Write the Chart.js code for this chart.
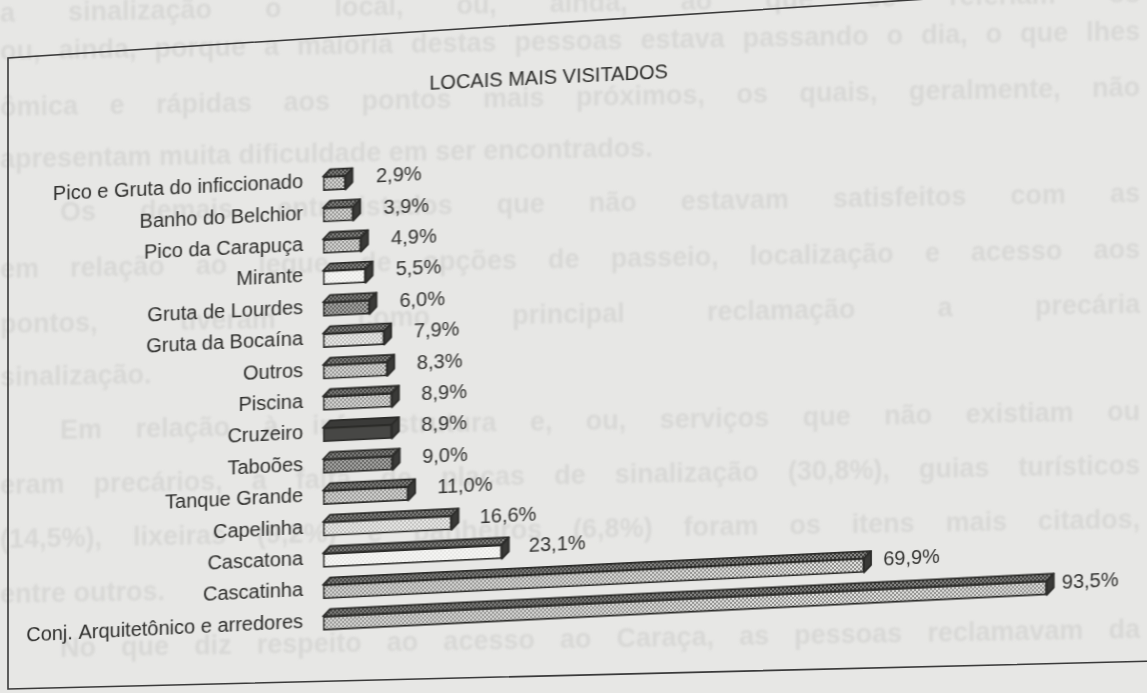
<!DOCTYPE html>
<html lang="pt">
<head>
<meta charset="utf-8">
<title>Locais mais visitados</title>
<script src="https://cdn.jsdelivr.net/npm/chart.js@4.4.0/dist/chart.umd.min.js"></script>
<style>
    html, body {
        margin: 0;
        padding: 0;
        width: 1147px;
        height: 693px;
        overflow: hidden;
        background: #e7e7e5;
        font-family: "Liberation Sans", Arial, sans-serif;
    }
    #ghost {
        position: absolute;
        left: 0;
        top: 0;
        width: 1147px;
        height: 693px;
        color: #d8d8d6;
        font-size: 27px;
        font-weight: bold;
        filter: blur(1.2px);
        transform: skewY(-1deg);
        transform-origin: 0 0;
    }
    #ghost div {
        position: absolute;
        white-space: nowrap;
    }
    #ghost div.full {
        text-align: justify;
        text-align-last: justify;
        white-space: normal;
    }
    #frame {
        position: absolute;
        left: 0;
        top: 0;
    }
    #wrap {
        position: absolute;
        left: 0;
        top: 0;
        width: 1147px;
        height: 693px;
        transform: skewY(-2.8deg);
        transform-origin: 323px 0;
    }
</style>
</head>
<body>
<div id="ghost"></div>
<svg id="frame" width="1147" height="693">
    <polyline points="1160,-16 8,58 8,689 1160,661" fill="none" stroke="#3a3a3a" stroke-width="1.6"/>
</svg>
<div id="wrap"><canvas id="locaisChart" width="1147" height="693"></canvas></div>
<script>
const locais = [
    'Pico e Gruta do inficcionado',
    'Banho do Belchior',
    'Pico da Carapuça',
    'Mirante',
    'Gruta de Lourdes',
    'Gruta da Bocaína',
    'Outros',
    'Piscina',
    'Cruzeiro',
    'Taboões',
    'Tanque Grande',
    'Capelinha',
    'Cascatona',
    'Cascatinha',
    'Conj. Arquitetônico e arredores'
];
const percentuais = [2.9, 3.9, 4.9, 5.5, 6.0, 7.9, 8.3, 8.9, 8.9, 9.0, 11.0, 16.6, 23.1, 69.9, 93.5];

// texto da pagina seguinte que aparece por transparencia no papel
const textoFundo = [
    ['a sinalização o local, ou, ainda, ao que se referiam os', 0, -2, true],
    ['ou, ainda, porque a maioria destas pessoas estava passando o dia, o que lhes', 0, 36, true],
    ['ômica e rápidas aos pontos mais próximos, os quais, geralmente, não', 0, 92, true],
    ['apresentam muita dificuldade em ser encontrados.', 0, 144, false],
    ['Os demais entrevistados que não estavam satisfeitos com as', 60, 198, true],
    ['em relação ao leque de opções de passeio, localização e acesso aos', 0, 254, true],
    ['pontos, tiveram como principal reclamação a precária', 0, 309, true],
    ['sinalização.', 0, 362, false],
    ['Em relação à infra-estrutura e, ou, serviços que não existiam ou', 60, 416, true],
    ['eram precários, a falta de placas de sinalização (30,8%), guias turísticos', 0, 470, true],
    ['(14,5%), lixeiras (9,2%) e banheiros (6,8%) foram os itens mais citados,', 0, 524, true],
    ['entre outros.', 0, 579, false],
    ['No que diz respeito ao acesso ao Caraça, as pessoas reclamavam da', 60, 634, true]
];

const ghost = document.getElementById('ghost');
textoFundo.forEach(([texto, x, y, cheia]) => {
    const div = document.createElement('div');
    div.textContent = texto;
    div.style.left = x + 'px';
    div.style.top = y + 'px';
    if (cheia) {
        div.className = 'full';
        div.style.width = (1140 - x) + 'px';
    }
    ghost.appendChild(div);
});

function checker(a, b) {
    const c = document.createElement('canvas');
    c.width = 4;
    c.height = 4;
    const g = c.getContext('2d');
    g.fillStyle = a;
    g.fillRect(0, 0, 4, 4);
    g.fillStyle = b;
    g.fillRect(0, 0, 2, 2);
    g.fillRect(2, 2, 2, 2);
    return g.createPattern(c, 'repeat');
}

const ctx = document.getElementById('locaisChart').getContext('2d');
const fills = {
    mid: checker('#e2e2e0', '#8e8e8c'),
    dark: checker('#b4b4b2', '#5a5a58'),
    light: checker('#f2f2f0', '#b8b8b6'),
    white: checker('#fafaf8', '#e4e4e2'),
    solid: '#474745'
};
const estilos = ['mid', 'mid', 'mid', 'white', 'dark', 'light', 'mid', 'mid', 'solid', 'dark', 'mid', 'light', 'white', 'mid', 'mid'];
const topoFill = checker('#8a8a88', '#3c3c3a');

const bar3d = {
    id: 'bar3d',
    afterDatasetsDraw(chart) {
        const c = chart.ctx;
        const meta = chart.getDatasetMeta(0);
        const dx = 7, dy = 7;
        meta.data.forEach((bar, i) => {
            const p = bar.getProps(['x', 'y', 'base', 'height'], true);
            const top = p.y - p.height / 2;
            const bottom = p.y + p.height / 2;
            c.save();
            c.lineJoin = 'round';
            c.strokeStyle = '#2c2c2a';
            c.lineWidth = 1.8;
            c.beginPath();
            c.moveTo(p.base, top);
            c.lineTo(p.base + dx, top - dy);
            c.lineTo(p.x + dx, top - dy);
            c.lineTo(p.x, top);
            c.closePath();
            c.fillStyle = estilos[i] === 'solid' ? '#3a3a38' : topoFill;
            c.fill();
            c.stroke();
            c.beginPath();
            c.moveTo(p.x, top);
            c.lineTo(p.x + dx, top - dy);
            c.lineTo(p.x + dx, bottom - dy);
            c.lineTo(p.x, bottom);
            c.closePath();
            c.fillStyle = '#3a3a38';
            c.fill();
            c.stroke();
            // rotulo de valor, mais afastado nas barras curtas como no original
            c.fillStyle = '#333331';
            c.font = '20px "Liberation Sans", Arial, sans-serif';
            c.textBaseline = 'middle';
            c.textAlign = 'left';
            const rotulo = percentuais[i].toFixed(1).replace('.', ',') + '%';
            const gap = 24 - percentuais[i] * 0.17;
            c.fillText(rotulo, p.x + dx + gap, p.y - 4);
            c.restore();
        });
    }
};

new Chart(ctx, {
    type: 'bar',
    data: {
        labels: locais,
        datasets: [{
            data: percentuais,
            backgroundColor: estilos.map(e => fills[e]),
            borderColor: '#2c2c2a',
            borderWidth: 1.8,
            borderSkipped: false,
            barThickness: 14
        }]
    },
    options: {
        indexAxis: 'y',
        responsive: false,
        animation: false,
        layout: {
            padding: { left: 0, right: 50, top: 0, bottom: 54 }
        },
        plugins: {
            legend: { display: false },
            tooltip: { enabled: false },
            title: {
                display: true,
                text: 'LOCAIS MAIS VISITADOS',
                color: '#2e2e2c',
                font: { family: '"Liberation Sans", Arial, sans-serif', size: 20, weight: 'normal', lineHeight: 1.2 },
                padding: { top: 77, bottom: 67 }
            }
        },
        scales: {
            x: {
                display: false,
                min: 0,
                max: 100
            },
            y: {
                grid: { display: false },
                border: { display: false },
                afterFit(scale) {
                    scale.width = 323;
                },
                ticks: {
                    color: '#2e2e2c',
                    padding: 12,
                    labelOffset: -2,
                    autoSkip: false,
                    font: { family: '"Liberation Sans", Arial, sans-serif', size: 20 }
                }
            }
        }
    },
    plugins: [bar3d]
});
</script>
</body>
</html>
